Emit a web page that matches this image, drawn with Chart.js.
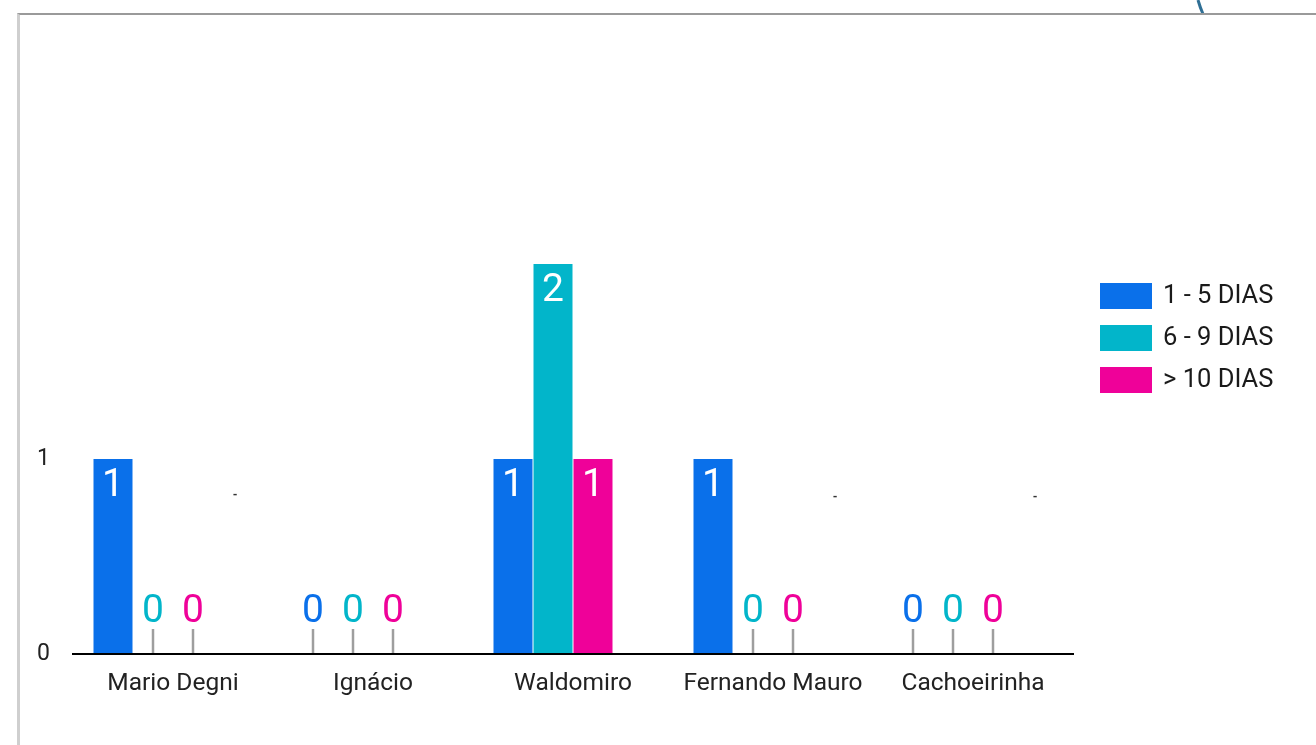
<!DOCTYPE html>
<html>
<head>
<meta charset="utf-8">
<script src="https://cdn.jsdelivr.net/npm/chart.js@4"></script>
<style>
  html,body{margin:0;padding:0;background:#fff;width:1316px;height:745px;overflow:hidden;font-family:Roboto,sans-serif;}
  #frame{position:absolute;left:17px;top:13px;width:1320px;height:760px;border-top:2px solid #9a9a9a;border-left:3px solid #cfcfcf;box-sizing:border-box;}
  #wrap{position:absolute;left:20px;top:16px;width:1296px;height:729px;}
  #deco{position:absolute;left:0;top:0;}
</style>
</head>
<body>
<svg id="deco" width="1316" height="20"><path d="M1198 0 Q1200 7 1203 14" stroke="#2f6f95" stroke-width="3" fill="none"/></svg>
<div id="frame"></div>
<div id="wrap"><canvas id="c"></canvas></div>
<script>
const categories = ['Mario Degni', 'Ignácio', 'Waldomiro', 'Fernando Mauro', 'Cachoeirinha'];
const seriesNames = ['1 - 5 DIAS', '6 - 9 DIAS', '> 10 DIAS'];
const serie1 = [1, 0, 1, 1, 0];
const serie2 = [0, 0, 2, 0, 0];
const serie3 = [0, 0, 1, 0, 0];
const serie4 = [0.82, null, null, 0.81, 0.81];
const serie4Labels = ['-', '', '', '-', '-'];
const seriesColors = ['#0a70ea', '#02b5ca', '#ef0199'];
const yTicks = [0, 1];
const yMax = 3;

const labelPlugin = {
  id: 'labels',
  afterDatasetsDraw(chart) {
    const ctx = chart.ctx;
    const ys = chart.scales.y;
    const base = ys.getPixelForValue(0);
    ctx.save();
    // baseline
    ctx.strokeStyle = '#000';
    ctx.lineWidth = 2;
    ctx.beginPath();
    ctx.moveTo(chart.chartArea.left - 1, base);
    ctx.lineTo(chart.chartArea.right + 1, base);
    ctx.stroke();
    ctx.textAlign = 'center';
    ctx.textBaseline = 'middle';
    for (let d = 0; d < 3; d++) {
      const meta = chart.getDatasetMeta(d);
      const data = chart.data.datasets[d].data;
      meta.data.forEach((el, j) => {
        const v = data[j];
        ctx.font = '39px Roboto';
        if (v > 0) {
          ctx.fillStyle = '#ffffff';
          ctx.fillText(String(v), el.x, el.y + 27);
        } else {
          ctx.strokeStyle = '#9e9e9e';
          ctx.lineWidth = 2.5;
          ctx.beginPath();
          ctx.moveTo(el.x, base - 25);
          ctx.lineTo(el.x, base - 1);
          ctx.stroke();
          ctx.fillStyle = seriesColors[d];
          ctx.fillText(String(v), el.x, base - 42);
        }
      });
    }
    // 4th (hidden) series marks
    const m4 = chart.getDatasetMeta(3);
    ctx.fillStyle = '#333';
    ctx.font = 'bold 12px Roboto';
    m4.data.forEach((el, j) => {
      if (serie4[j] != null && serie4Labels[j]) ctx.fillText(serie4Labels[j], el.x + 2, el.y + 2);
    });
    // legend
    const lx = chart.chartArea.right + 27;
    const ly = chart.chartArea.top + 227;
    ctx.textAlign = 'left';
    ctx.font = '25.5px Roboto';
    seriesNames.forEach((n, i) => {
      const cy = ly + i * 42;
      ctx.fillStyle = seriesColors[i];
      ctx.fillRect(lx, cy - 13, 52, 26);
      ctx.fillStyle = '#1a1a1a';
      ctx.fillText(n, lx + 63, cy + 1);
    });
    ctx.restore();
  }
};

const datasets = [serie1, serie2, serie3].map((arr, i) => ({
  label: seriesNames[i],
  data: arr,
  backgroundColor: seriesColors[i],
  borderWidth: 0,
  barPercentage: 0.975,
  categoryPercentage: 0.8
}));
datasets.push({
  label: '',
  data: serie4,
  backgroundColor: 'rgba(0,0,0,0)',
  borderWidth: 0,
  barPercentage: 0.975,
  categoryPercentage: 0.8
});

new Chart(document.getElementById('c'), {
  type: 'bar',
  data: { labels: categories, datasets },
  options: {
    responsive: true,
    maintainAspectRatio: false,
    animation: false,
    layout: { padding: { left: 0, top: 53, right: 243, bottom: 20 } },
    plugins: { legend: { display: false }, tooltip: { enabled: false } },
    scales: {
      x: {
        grid: { display: false },
        border: { display: false },
        ticks: { color: '#222', font: { family: 'Roboto', size: 24.5 }, padding: 7, maxRotation: 0, autoSkip: false },
        afterFit(s) { s.height = 71; }
      },
      y: {
        min: 0,
        max: yMax,
        grid: { display: false },
        border: { display: false },
        ticks: { color: '#222', font: { family: 'Roboto', size: 23 }, padding: 15 },
        afterBuildTicks(s) { s.ticks = yTicks.map(v => ({ value: v })); },
        afterFit(s) { s.width = 53; }
      }
    }
  },
  plugins: [labelPlugin]
});
</script>
</body>
</html>
